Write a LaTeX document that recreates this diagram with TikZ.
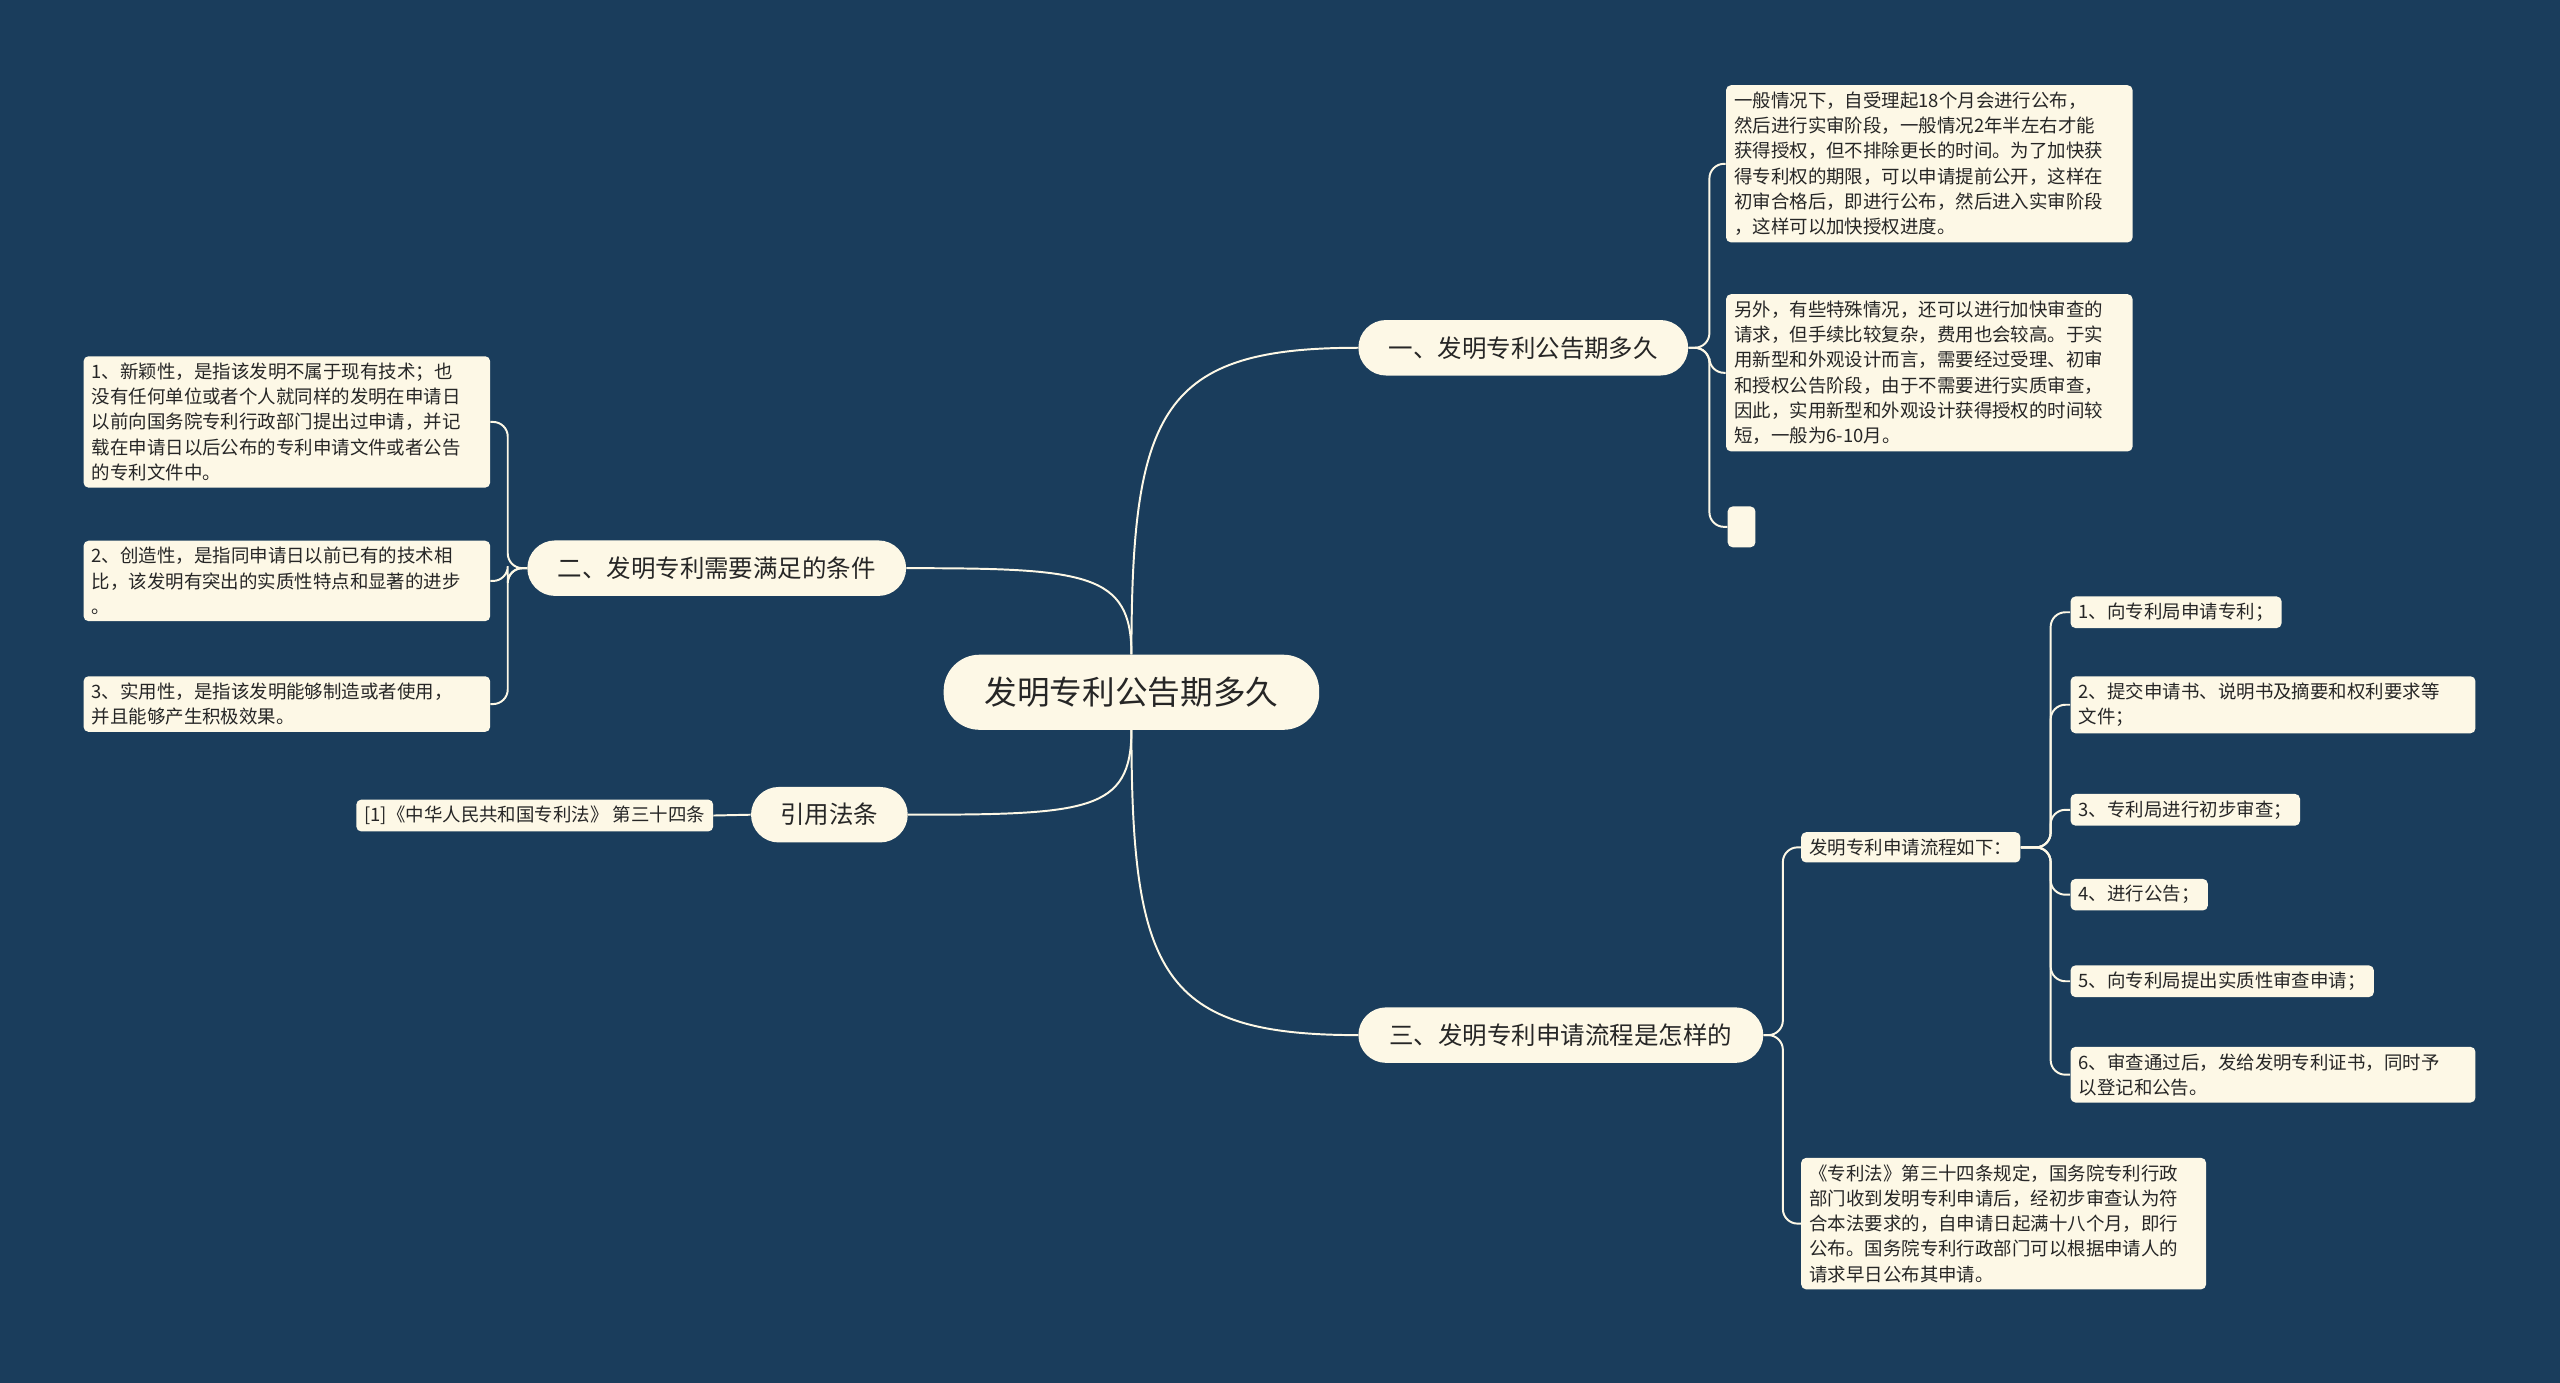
\documentclass[tikz,border=0pt]{standalone}
\usepackage{fontspec}
\setmainfont{Noto Sans CJK SC}
\begin{document}
\begin{tikzpicture}[x=1pt,y=1pt,
  every node/.style={text=black!85},
  leaf/.style={fill=cream,rounded corners=3pt,anchor=north west,align=left,inner xsep=5pt,inner ysep=4pt,font=\fontsize{11.3}{15.5}\selectfont},
  br/.style={fill=cream,rounded corners=17pt,minimum height=34pt,inner xsep=16pt,font=\fontsize{15}{18}\selectfont},
  ln/.style={draw=cream,line width=1.2pt},
  jn/.style={ln,rounded corners=9pt}]
\definecolor{bg}{HTML}{1A3D5C}
\definecolor{cream}{HTML}{FDF8E6}
\fill[bg] (0,0) rectangle (1568,-847);
\useasboundingbox (0,0) rectangle (1568,-847);
% center and branches
\node[fill=cream,rounded corners=22pt,minimum height=46pt,minimum width=230pt,font=\fontsize{20}{24}\selectfont] (c) at (693,-424) {发明专利公告期多久};
\node[br,minimum width=202pt] (b1) at (933,-213) {一、发明专利公告期多久};
\node[br,minimum width=232pt] (b2) at (439,-348) {二、发明专利需要满足的条件};
\node[br,minimum width=96pt] (b3) at (508,-499) {引用法条};
\node[br,minimum width=248pt] (b4) at (956,-634) {三、发明专利申请流程是怎样的};
\draw[ln] (c.north) .. controls +(0,150) and +(-120,0) .. (b1.west);
\draw[ln] (c.north) .. controls +(0,50) and +(110,0) .. (b2.east);
\draw[ln] (c.south) .. controls +(0,-50) and +(110,0) .. (b3.east);
\draw[ln] (c.south) .. controls +(0,-150) and +(-120,0) .. (b4.west);
% branch 1 leaves
\node[leaf,text width=239pt] (l11) at (1057,-52) {一般情况下，自受理起18个月会进行公布，\\然后进行实审阶段，一般情况2年半左右才能\\获得授权，但不排除更长的时间。为了加快获\\得专利权的期限，可以申请提前公开，这样在\\初审合格后，即进行公布，然后进入实审阶段\\，这样可以加快授权进度。};
\node[leaf,text width=239pt] (l12) at (1057,-180) {另外，有些特殊情况，还可以进行加快审查的\\请求，但手续比较复杂，费用也会较高。于实\\用新型和外观设计而言，需要经过受理、初审\\和授权公告阶段，由于不需要进行实质审查，\\因此，实用新型和外观设计获得授权的时间较\\短，一般为6-10月。};
\node[fill=cream,rounded corners=3pt,minimum width=17pt,minimum height=25pt,inner sep=0pt,anchor=north west] (l13) at (1058,-310) {};
\coordinate (j1) at (1047,-213);
\draw[jn] (b1.east) -- (j1) |- (l11.west);
\draw[jn] (b1.east) -- (j1) |- (l12.west);
\draw[jn] (b1.east) -- (j1) |- (l13.west);
% branch 2 leaves
\node[leaf,text width=239pt] (l21) at (51,-218) {1、新颖性，是指该发明不属于现有技术；也\\没有任何单位或者个人就同样的发明在申请日\\以前向国务院专利行政部门提出过申请，并记\\载在申请日以后公布的专利申请文件或者公告\\的专利文件中。};
\node[leaf,text width=239pt] (l22) at (51,-331) {2、创造性，是指同申请日以前已有的技术相\\比，该发明有突出的实质性特点和显著的进步\\。};
\node[leaf,text width=239pt] (l23) at (51,-414) {3、实用性，是指该发明能够制造或者使用，\\并且能够产生积极效果。};
\coordinate (j2) at (311,-348);
\draw[jn] (b2.west) -- (j2) |- (l21.east);
\draw[jn] (b2.west) -- (j2) |- (l22.east);
\draw[jn] (b2.west) -- (j2) |- (l23.east);
% branch 3
\node[leaf,anchor=east] (l31) at (437,-499.5) {[1]《中华人民共和国专利法》 第三十四条};
\draw[ln] (b3.west) -- (l31.east);
% branch 4
\node[leaf,anchor=west] (l41) at (1103,-519) {发明专利申请流程如下：};
\node[leaf,text width=238pt] (l42) at (1103,-709) {《专利法》第三十四条规定，国务院专利行政\\部门收到发明专利申请后，经初步审查认为符\\合本法要求的，自申请日起满十八个月，即行\\公布。国务院专利行政部门可以根据申请人的\\请求早日公布其申请。};
\coordinate (j4) at (1092,-634);
\draw[jn] (b4.east) -- (j4) |- (l41.west);
\draw[jn] (b4.east) -- (j4) |- (l42.west);
\node[leaf,anchor=west] (s1) at (1268,-375) {1、向专利局申请专利；};
\node[leaf,text width=238pt] (s2) at (1268,-414) {2、提交申请书、说明书及摘要和权利要求等\\文件；};
\node[leaf,anchor=west] (s3) at (1268,-496) {3、专利局进行初步审查；};
\node[leaf,anchor=west] (s4) at (1268,-548) {4、进行公告；};
\node[leaf,anchor=west] (s5) at (1268,-601) {5、向专利局提出实质性审查申请；};
\node[leaf,text width=238pt] (s6) at (1268,-641) {6、审查通过后，发给发明专利证书，同时予\\以登记和公告。};
\coordinate (j5) at (1256,-519);
\foreach \s in {s1,s2,s3,s4,s5,s6} \draw[jn] (l41.east) -- (j5) |- (\s.west);
\end{tikzpicture}
\end{document}
